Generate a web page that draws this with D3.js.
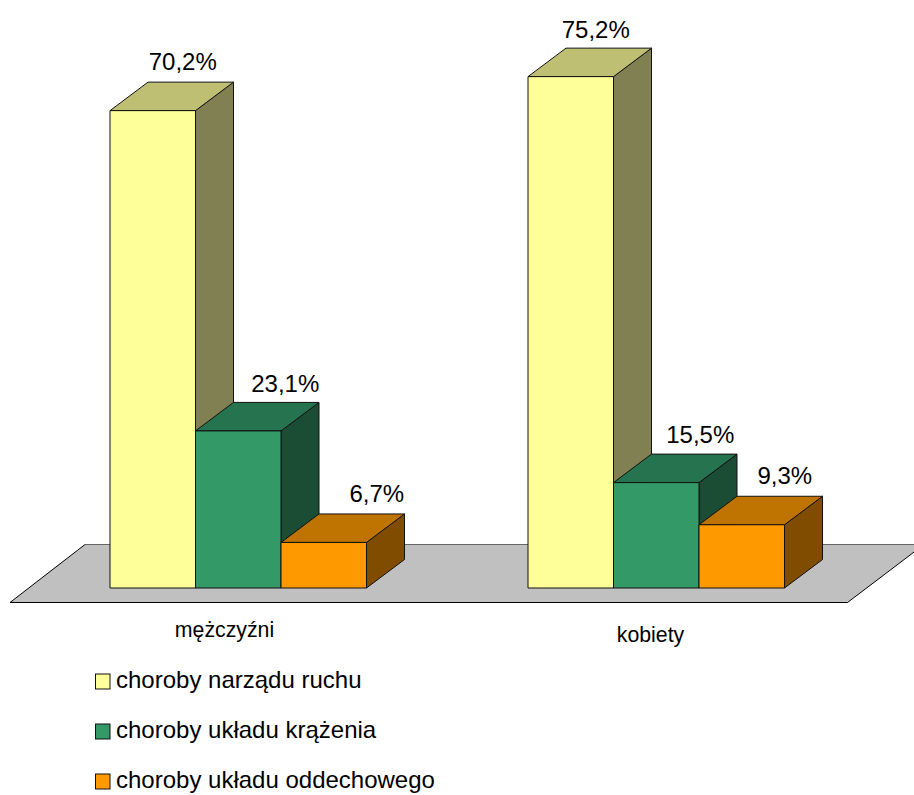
<!DOCTYPE html>
<html><head><meta charset="utf-8">
<script src="https://cdnjs.cloudflare.com/ajax/libs/d3/7.8.5/d3.min.js"></script>
<style>html,body{margin:0;padding:0;background:#fff}svg{display:block}text{font-family:"Liberation Sans",Arial,sans-serif;fill:#000}</style>
</head><body><script>
const categories = ["mężczyźni", "kobiety"];
const seriesNames = ["choroby narządu ruchu", "choroby układu krążenia", "choroby układu oddechowego"];
const narzadRuchu = [70.2, 75.2];
const ukladKrazenia = [23.1, 15.5];
const ukladOddechowy = [6.7, 9.3];
const frontColors = ["#FFFF99", "#339966", "#FF9900"];
const topColors = ["#BFBF73", "#267350", "#BF7300"];
const sideColors = ["#808053", "#1A4D33", "#804D00"];

const values = [narzadRuchu, ukladKrazenia, ukladOddechowy];
const W = 914, H = 795, depthX = 38, depthY = -28.5;
const svg = d3.select("body").append("svg").attr("width", W).attr("height", H);

const y = d3.scaleLinear().domain([0, 80]).range([588, 44]);
const x0 = d3.scaleBand().domain(categories).range([110, 946]).paddingInner(0).paddingOuter(0);
const x1 = d3.scaleBand().domain(seriesNames).range([0, 256.5]);

// floor
const floor = [[10, 602.5], [85, 544.5], [924, 544.5], [847.5, 602.5]];
svg.append("path").attr("d", d3.line()(floor) + "Z").attr("fill", "#C0C0C0").attr("stroke", "none");
svg.append("path").attr("d", d3.line()([floor[1], floor[2]])).attr("fill", "none").attr("stroke", "#666").attr("stroke-width", 1.2);
svg.append("path").attr("d", d3.line()([floor[2], floor[3], floor[0], floor[1]])).attr("fill", "none").attr("stroke", "#000").attr("stroke-width", 1);

// bars
const labelNudge = [[[-1, -1], [16, 1], [22, -1]], [[-6, 1], [13, 0], [12, -1]]];
categories.forEach((c, ci) => {
  const g = svg.append("g");
  seriesNames.forEach((s, si) => {
    const l = x0(c) + x1(s), r = l + x1.bandwidth(), b = y(0), t = y(values[si][ci]);
    const poly = (pts, fill) => g.append("path").attr("d", d3.line()(pts) + "Z")
      .attr("fill", fill).attr("stroke", "#111").attr("stroke-width", 1).attr("stroke-linejoin", "round");
    poly([[r, t], [r + depthX, t + depthY], [r + depthX, b + depthY], [r, b]], sideColors[si]);
    poly([[l, t], [l + depthX, t + depthY], [r + depthX, t + depthY], [r, t]], topColors[si]);
    poly([[l, t], [r, t], [r, b], [l, b]], frontColors[si]);
  });
  seriesNames.forEach((s, si) => {
    const l = x0(c) + x1(s), t = y(values[si][ci]), n = labelNudge[ci][si];
    svg.append("text").attr("x", l + x1.bandwidth() / 2 + depthX / 2 + 12 + n[0])
      .attr("y", t + depthY - 11 + n[1]).attr("text-anchor", "middle").attr("font-size", 24)
      .text(d3.format(".1f")(values[si][ci]).replace(".", ",") + "%");
  });
});

// category labels
const catPos = [[224.5, 636.5], [650.5, 641.5]];
categories.forEach((c, i) => svg.append("text").attr("x", catPos[i][0]).attr("y", catPos[i][1])
  .attr("text-anchor", "middle").attr("font-size", 21.3).text(c));

// legend
const ly = d3.scalePoint().domain(seriesNames).range([688, 788]);
seriesNames.forEach((s, i) => {
  svg.append("rect").attr("x", 95.5).attr("y", ly(s) - 14).attr("width", 14.5).attr("height", 15)
    .attr("fill", frontColors[i]).attr("stroke", "#111").attr("stroke-width", 1);
  svg.append("text").attr("x", 116).attr("y", ly(s)).attr("font-size", 24).text(s);
});
</script></body></html>
